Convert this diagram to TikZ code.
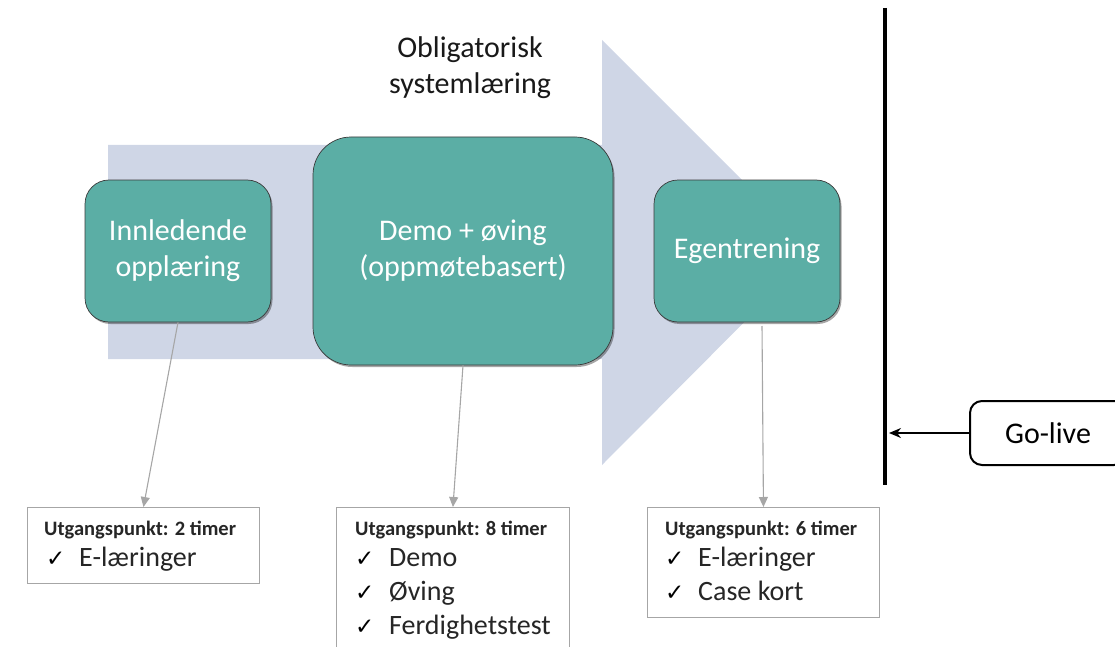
\documentclass[tikz,border=0pt]{standalone}
\usepackage{fontspec}
\setmainfont{Carlito}
\newfontfamily\symfont{DejaVu Sans}
\usetikzlibrary{arrows.meta,shadows}
\definecolor{tealbox}{HTML}{5BAEA5}
\definecolor{arrowc}{HTML}{CFD6E6}
\definecolor{connc}{HTML}{A6A6A6}
\definecolor{edgec}{HTML}{3A3A3A}
\tikzset{
  tbox/.style={draw=edgec, line width=0.7pt, fill=tealbox, text=white, align=center,
    font=\fontsize{30}{36}\selectfont,
    drop shadow={shadow xshift=1.5pt, shadow yshift=-2pt, opacity=0.35, fill=black}},
  infobox/.style={draw=connc, line width=0.9pt, fill=white, anchor=north west, inner sep=0pt},
  conn/.style={draw=connc, line width=1.1pt, -{Triangle[length=10pt,width=9pt]}},
  hdr/.style={anchor=base west, inner sep=0pt, font=\bfseries\fontsize{20.5}{24}\selectfont, text=black!85},
  chk/.style={anchor=base west, inner sep=0pt, font=\symfont\bfseries\fontsize{23}{26}\selectfont},
  itm/.style={anchor=base west, inner sep=0pt, font=\fontsize{28}{32}\selectfont, text=black!85},
}
\begin{document}
\begin{tikzpicture}[x=1pt,y=-1pt]
\useasboundingbox (0,0) rectangle (1115,647);
\clip (0,0) rectangle (1115,647);
% big arrow
\fill[arrowc] (108,145) -- (602,145) -- (602,40) -- (814,252) -- (602,465) -- (602,359) -- (108,359) -- cycle;
% title
\node[align=center, font=\fontsize{30}{36}\selectfont, text=black!90] (title) at (470,68) {Obligatorisk\\systemlæring};
% teal boxes
\node[tbox, minimum width=186pt, minimum height=142pt, rounded corners=24pt] (b1) at (178,251) {Innledende\\opplæring};
\node[tbox, minimum width=300pt, minimum height=228pt, rounded corners=38pt] (b2) at (463,251) {Demo + øving\\(oppmøtebasert)};
\node[tbox, minimum width=186pt, minimum height=142pt, rounded corners=24pt] (b3) at (747,251) {Egentrening};
% info boxes
\node[infobox, minimum width=232pt, minimum height=76pt] (ia) at (27,507) {};
\node[infobox, minimum width=233pt, minimum height=160pt] (ib) at (336,507) {};
\node[infobox, minimum width=232pt, minimum height=110pt] (ic) at (647,507) {};
% connectors
\draw[conn] (b1.south) -- (ia.north);
\draw[conn] (b2.south) -- (ib.north);
\coordinate (b3out) at (762,326);
\draw[conn] (b3out) -- (ic.north);
% info text A
\node[hdr] (ha) at (44,535) {Utgangspunkt: 2 timer};
\node[chk] (ca1) at (46,566) {✓};
\node[itm] (ta1) at (79,566) {E-læringer};
% info text B
\node[hdr] (hb) at (355,535) {Utgangspunkt: 8 timer};
\node[chk] (cb1) at (355,566) {✓};
\node[itm] (tb1) at (389,566) {Demo};
\node[chk] (cb2) at (355,600) {✓};
\node[itm] (tb2) at (389,600) {Øving};
\node[chk] (cb3) at (355,634) {✓};
\node[itm] (tb3) at (389,634) {Ferdighetstest};
% info text C
\node[hdr] (hc) at (665,535) {Utgangspunkt: 6 timer};
\node[chk] (cc1) at (665,566) {✓};
\node[itm] (tc1) at (698,566) {E-læringer};
\node[chk] (cc2) at (665,600) {✓};
\node[itm] (tc2) at (698,600) {Case kort};
% go-live bar
\coordinate (bartop) at (885,8);
\coordinate (barbot) at (885,485);
\draw[line width=4pt] (bartop) -- (barbot);
\node[draw, line width=2pt, rounded corners=12pt, minimum width=156pt, minimum height=64pt,
  font=\fontsize{30}{36}\selectfont, fill=white] (gl) at (1048,433) {Go-live};
\coordinate (barhit) at (889,433);
\draw[line width=1.6pt, -{Stealth[length=12pt,width=10pt]}] (gl.west) -- (barhit);
\end{tikzpicture}
\end{document}
